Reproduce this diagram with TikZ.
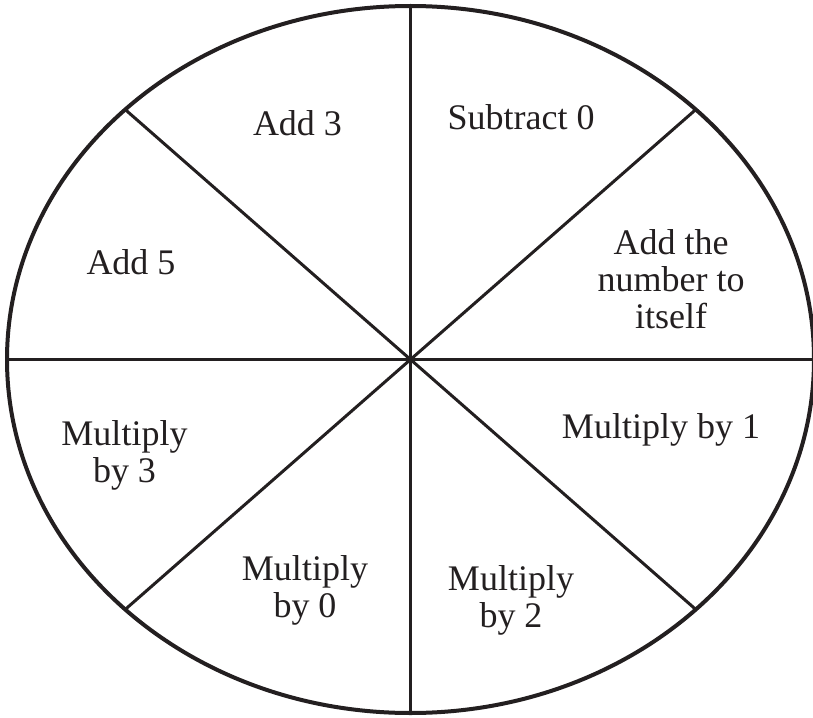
\documentclass[tikz,border=0pt]{standalone}
\usepackage{fontspec}
\setmainfont{Liberation Serif}
\definecolor{ink}{HTML}{231F20}
\newcommand{\wheelfont}{\fontsize{18}{18.4}\selectfont}
\tikzset{
  rim/.style={draw=ink, line width=2pt},
  spoke/.style={draw=ink, line width=1.5pt},
  lbl/.style={font=\wheelfont, text=ink, align=center, anchor=base, inner sep=0pt}
}
\begin{document}
\begin{tikzpicture}[x=0.5pt,y=-0.5pt]
  \useasboundingbox (0,0) rectangle (813,717);
  \coordinate (c) at (410.5,359.5);
  % outer ellipse
  \draw[rim] (c) ellipse [x radius=403.5, y radius=353.5];
  % eight spokes
  \foreach \a [count=\i] in {0,45,...,315}
    \coordinate (r\i) at ([shift={(\a:403.5 and 353.5)}]c);
  \foreach \i in {1,...,8}
    \draw[spoke] (c) -- (r\i);
  % labels (base = baseline of last line)
  \node[lbl] (add3) at (297.5,135) {Add 3};
  \node[lbl] (sub0) at (521,129) {Subtract 0};
  \node[lbl] (add5) at (131,274) {Add 5};
  \node[lbl] (self) at (671,328) {Add the\\number to\\itself};
  \node[lbl] (mul3) at (124.5,482) {Multiply\\by 3};
  \node[lbl] (mul1) at (661,438) {Multiply by 1};
  \node[lbl] (mul0) at (305,617) {Multiply\\by 0};
  \node[lbl] (mul2) at (511,627) {Multiply\\by 2};
\end{tikzpicture}
\end{document}
